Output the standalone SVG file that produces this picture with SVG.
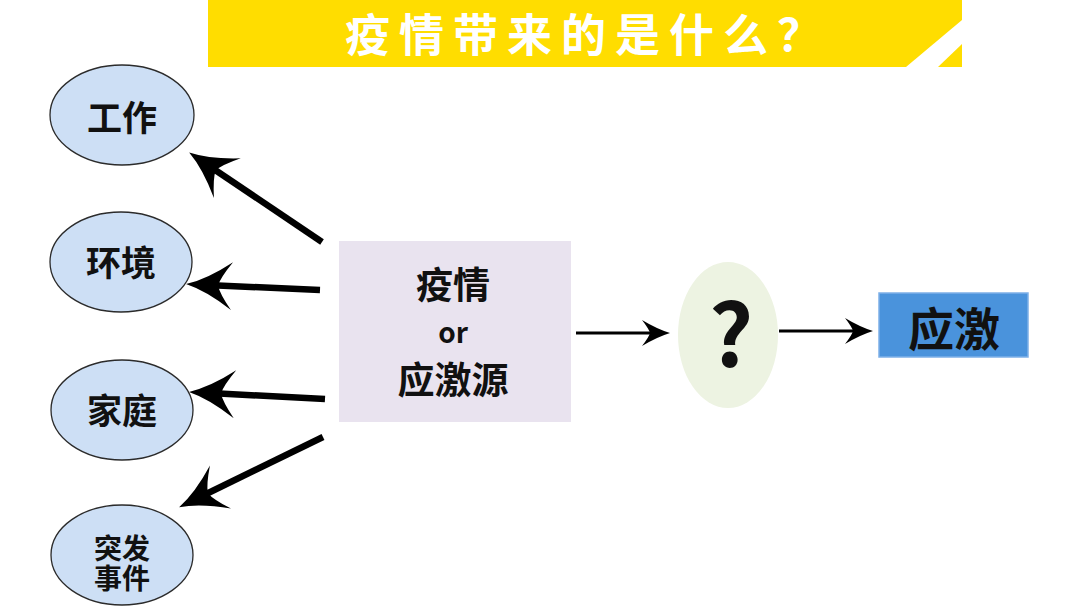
<svg xmlns="http://www.w3.org/2000/svg" width="1084" height="615" viewBox="0 0 1084 615">
<style>
.t{font-family:"Noto Sans CJK SC","Noto Sans",sans-serif;font-weight:bold;fill:#111;text-anchor:middle}
.ell{fill:#cddff5;stroke:#2b2b2b;stroke-width:1.3}
.thick{stroke:#000;stroke-width:6.5;fill:none}
.thin{stroke:#000;stroke-width:3;fill:none}
</style>
<defs>
<marker id="bigHead" markerUnits="userSpaceOnUse" markerWidth="60" markerHeight="60" refX="25" refY="0" orient="auto" overflow="visible" viewBox="-5 -30 60 60">
<path d="M46,0 Q25,-6 0,-24 Q12,-8 14,0 Q12,8 0,24 Q25,6 46,0 Z" fill="#000"/>
</marker>
<marker id="smallHead" markerUnits="userSpaceOnUse" markerWidth="40" markerHeight="40" refX="18" refY="0" orient="auto" overflow="visible" viewBox="-5 -20 40 40">
<path d="M28,0 Q15,-4 0,-13 Q7,-4 8,0 Q7,4 0,13 Q15,4 28,0 Z" fill="#000"/>
</marker>
</defs>
<rect width="1084" height="615" fill="#fff"/>
<g id="banner">
<rect x="208" y="0" width="754" height="67" fill="#ffdd00"/>
<polygon points="906,67 962,20 962,44 938,67" fill="#fff"/>
<text x="588" y="52" class="t" style="fill:#fff;font-size:45px;letter-spacing:9px">疫情带来的是什么？</text>
</g>
<g id="node-work">
<ellipse cx="122" cy="115" rx="72" ry="50" class="ell"/>
<text x="122" y="131" class="t" style="font-size:35px">工作</text>
</g>
<g id="node-env">
<ellipse cx="121" cy="262" rx="71" ry="50" class="ell"/>
<text x="121" y="276" class="t" style="font-size:35px">环境</text>
</g>
<g id="node-family">
<ellipse cx="122" cy="410" rx="71" ry="50" class="ell"/>
<text x="122" y="424" class="t" style="font-size:35px">家庭</text>
</g>
<g id="node-event">
<ellipse cx="122" cy="555" rx="71" ry="50" class="ell"/>
<text class="t" style="font-size:28px"><tspan x="122" y="559">突发</tspan><tspan x="122" y="589">事件</tspan></text>
</g>
<g id="node-source">
<rect x="339" y="241" width="232" height="181" fill="#e9e3ef"/>
<text x="453" y="299" class="t" style="font-size:37px">疫情</text>
<text x="453" y="343" class="t" style="font-size:28px">or</text>
<text x="453" y="394" class="t" style="font-size:37px">应激源</text>
</g>
<g id="node-question">
<ellipse cx="728" cy="335" rx="50" ry="73" fill="#edf3e2"/>
<text x="731" y="367" class="t" style="font-size:86px">?</text>
</g>
<g id="node-stress">
<rect x="879" y="293" width="149" height="64" fill="#4a93dc" stroke="#7eb0e8" stroke-width="1.5"/>
<text x="954" y="346" class="t" style="font-size:46px">应激</text>
</g>
<g id="connectors">
<line x1="322" y1="242" x2="206.6" y2="164.2" class="thick" marker-end="url(#bigHead)"/>
<line x1="320" y1="290" x2="207" y2="285" class="thick" marker-end="url(#bigHead)"/>
<line x1="325" y1="399" x2="210" y2="393" class="thick" marker-end="url(#bigHead)"/>
<line x1="323" y1="437" x2="198" y2="498" class="thick" marker-end="url(#bigHead)"/>
<line x1="576" y1="333" x2="660" y2="333" class="thin" marker-end="url(#smallHead)"/>
<line x1="779" y1="331" x2="863" y2="331" class="thin" marker-end="url(#smallHead)"/>
</g>
</svg>
